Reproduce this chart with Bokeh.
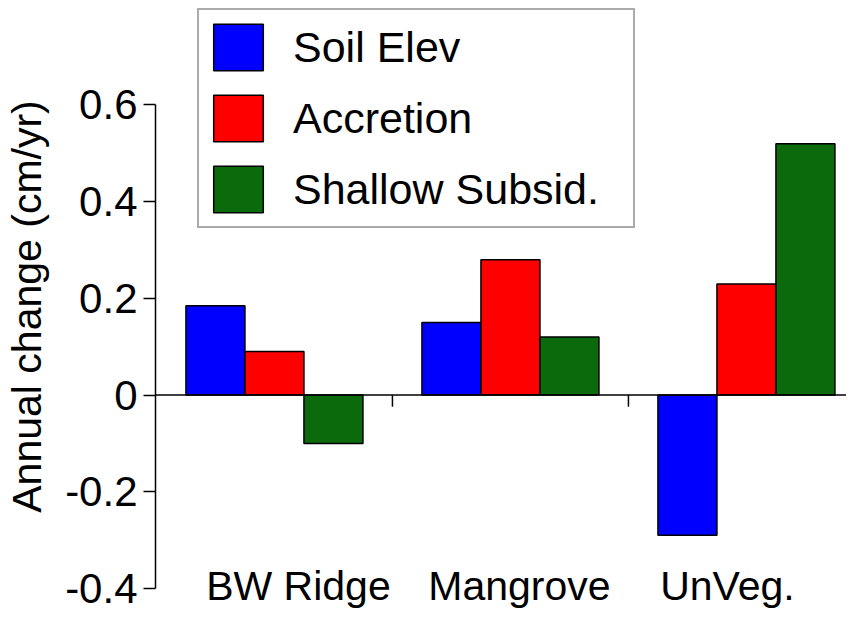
import numpy as np
from bokeh.plotting import figure
from bokeh.models import Range1d, FixedTicker, Legend, LegendItem, Span, ColumnDataSource
from bokeh.embed import file_html
from bokeh.resources import INLINE
from bokeh.core.properties import value

# ---- data ----
categories = ["BW Ridge", "Mangrove", "UnVeg."]
series_names = ["Soil Elev", "Accretion", "Shallow Subsid."]
soil_elev = [0.185, 0.15, -0.29]
accretion = [0.09, 0.28, 0.23]
shallow_subsid = [-0.10, 0.12, 0.52]
y_ticks = [-0.4, -0.2, 0, 0.2, 0.4, 0.6]
y_tick_labels = ["-0.4", "-0.2", "0", "0.2", "0.4", "0.6"]
y_title = "Annual change (cm/yr)"

# ---- style ----
colors = ["#0000ff", "#ff0000", "#0b6a0b"]
FONT = "Liberation Sans"
bar_w = 0.25
offsets = [-0.25, 0.0, 0.25]
label_nudge_px = [24, 9, -19]

p = figure(width=846, height=612,
           x_range=Range1d(-0.004, 2.924), y_range=Range1d(-0.4496, 0.8161),
           output_backend="svg", toolbar_location=None,
           x_axis_location=None,
           min_border_left=155, min_border_right=0,
           min_border_top=0, min_border_bottom=0)
p.outline_line_color = None
p.grid.visible = False
p.background_fill_color = "white"
p.border_fill_color = "white"

centers = np.arange(len(categories)) + 0.5
renderers = []
for vals, col, off in zip([soil_elev, accretion, shallow_subsid], colors, offsets):
    src = ColumnDataSource(dict(x=centers + off, top=vals))
    r = p.vbar(x="x", top="top", bottom=0, width=bar_w, source=src,
               fill_color=col, line_color="black", line_width=1.5)
    renderers.append(r)

# zero line
p.add_layout(Span(location=0, dimension="width", line_color="black", line_width=1.5))

# category separator ticks on zero line
seps = np.arange(1, len(categories))
p.segment(x0=seps, y0=0, x1=seps, y1=-0.024, line_color="black", line_width=1.5)

# category labels
lab_src = ColumnDataSource(dict(x=centers, y=[-0.394] * len(categories),
                                text=categories, dx=label_nudge_px))
p.text(x="x", y="y", text="text", x_offset="dx", source=lab_src,
       text_font=value(FONT), text_font_size="41px", text_color="black",
       text_align="center", text_baseline="middle")

# y axis
ya = p.yaxis[0]
ya.ticker = FixedTicker(ticks=y_ticks)
ya.major_label_overrides = {t: l for t, l in zip(y_ticks, y_tick_labels)}
ya.bounds = (min(y_ticks), max(y_ticks))
ya.minor_tick_line_color = None
ya.major_tick_out = 12
ya.major_tick_in = 0
ya.major_tick_line_width = 1.5
ya.axis_line_width = 1.5
ya.axis_line_color = "black"
ya.major_tick_line_color = "black"
ya.major_label_text_font = FONT
ya.major_label_text_font_size = "42px"
ya.major_label_text_color = "black"
ya.major_label_standoff = 6
ya.axis_label = y_title
ya.axis_label_text_font = FONT
ya.axis_label_text_font_size = "41px"
ya.axis_label_text_font_style = "normal"
ya.axis_label_text_color = "black"
ya.axis_label_standoff = 12

# legend
items = [LegendItem(label=n, renderers=[r]) for n, r in zip(series_names, renderers)]
leg = Legend(items=items, location=(42, 384),
             glyph_width=62, glyph_height=58, label_standoff=24,
             label_text_font=FONT, label_text_font_size="43px",
             label_text_color="black", label_width=332, label_height=46,
             spacing=13, padding=8, margin=0,
             border_line_color="#555555", border_line_width=2,
             background_fill_color="white", background_fill_alpha=1.0)
p.add_layout(leg)

open("out.html", "w").write(file_html(p, INLINE))
